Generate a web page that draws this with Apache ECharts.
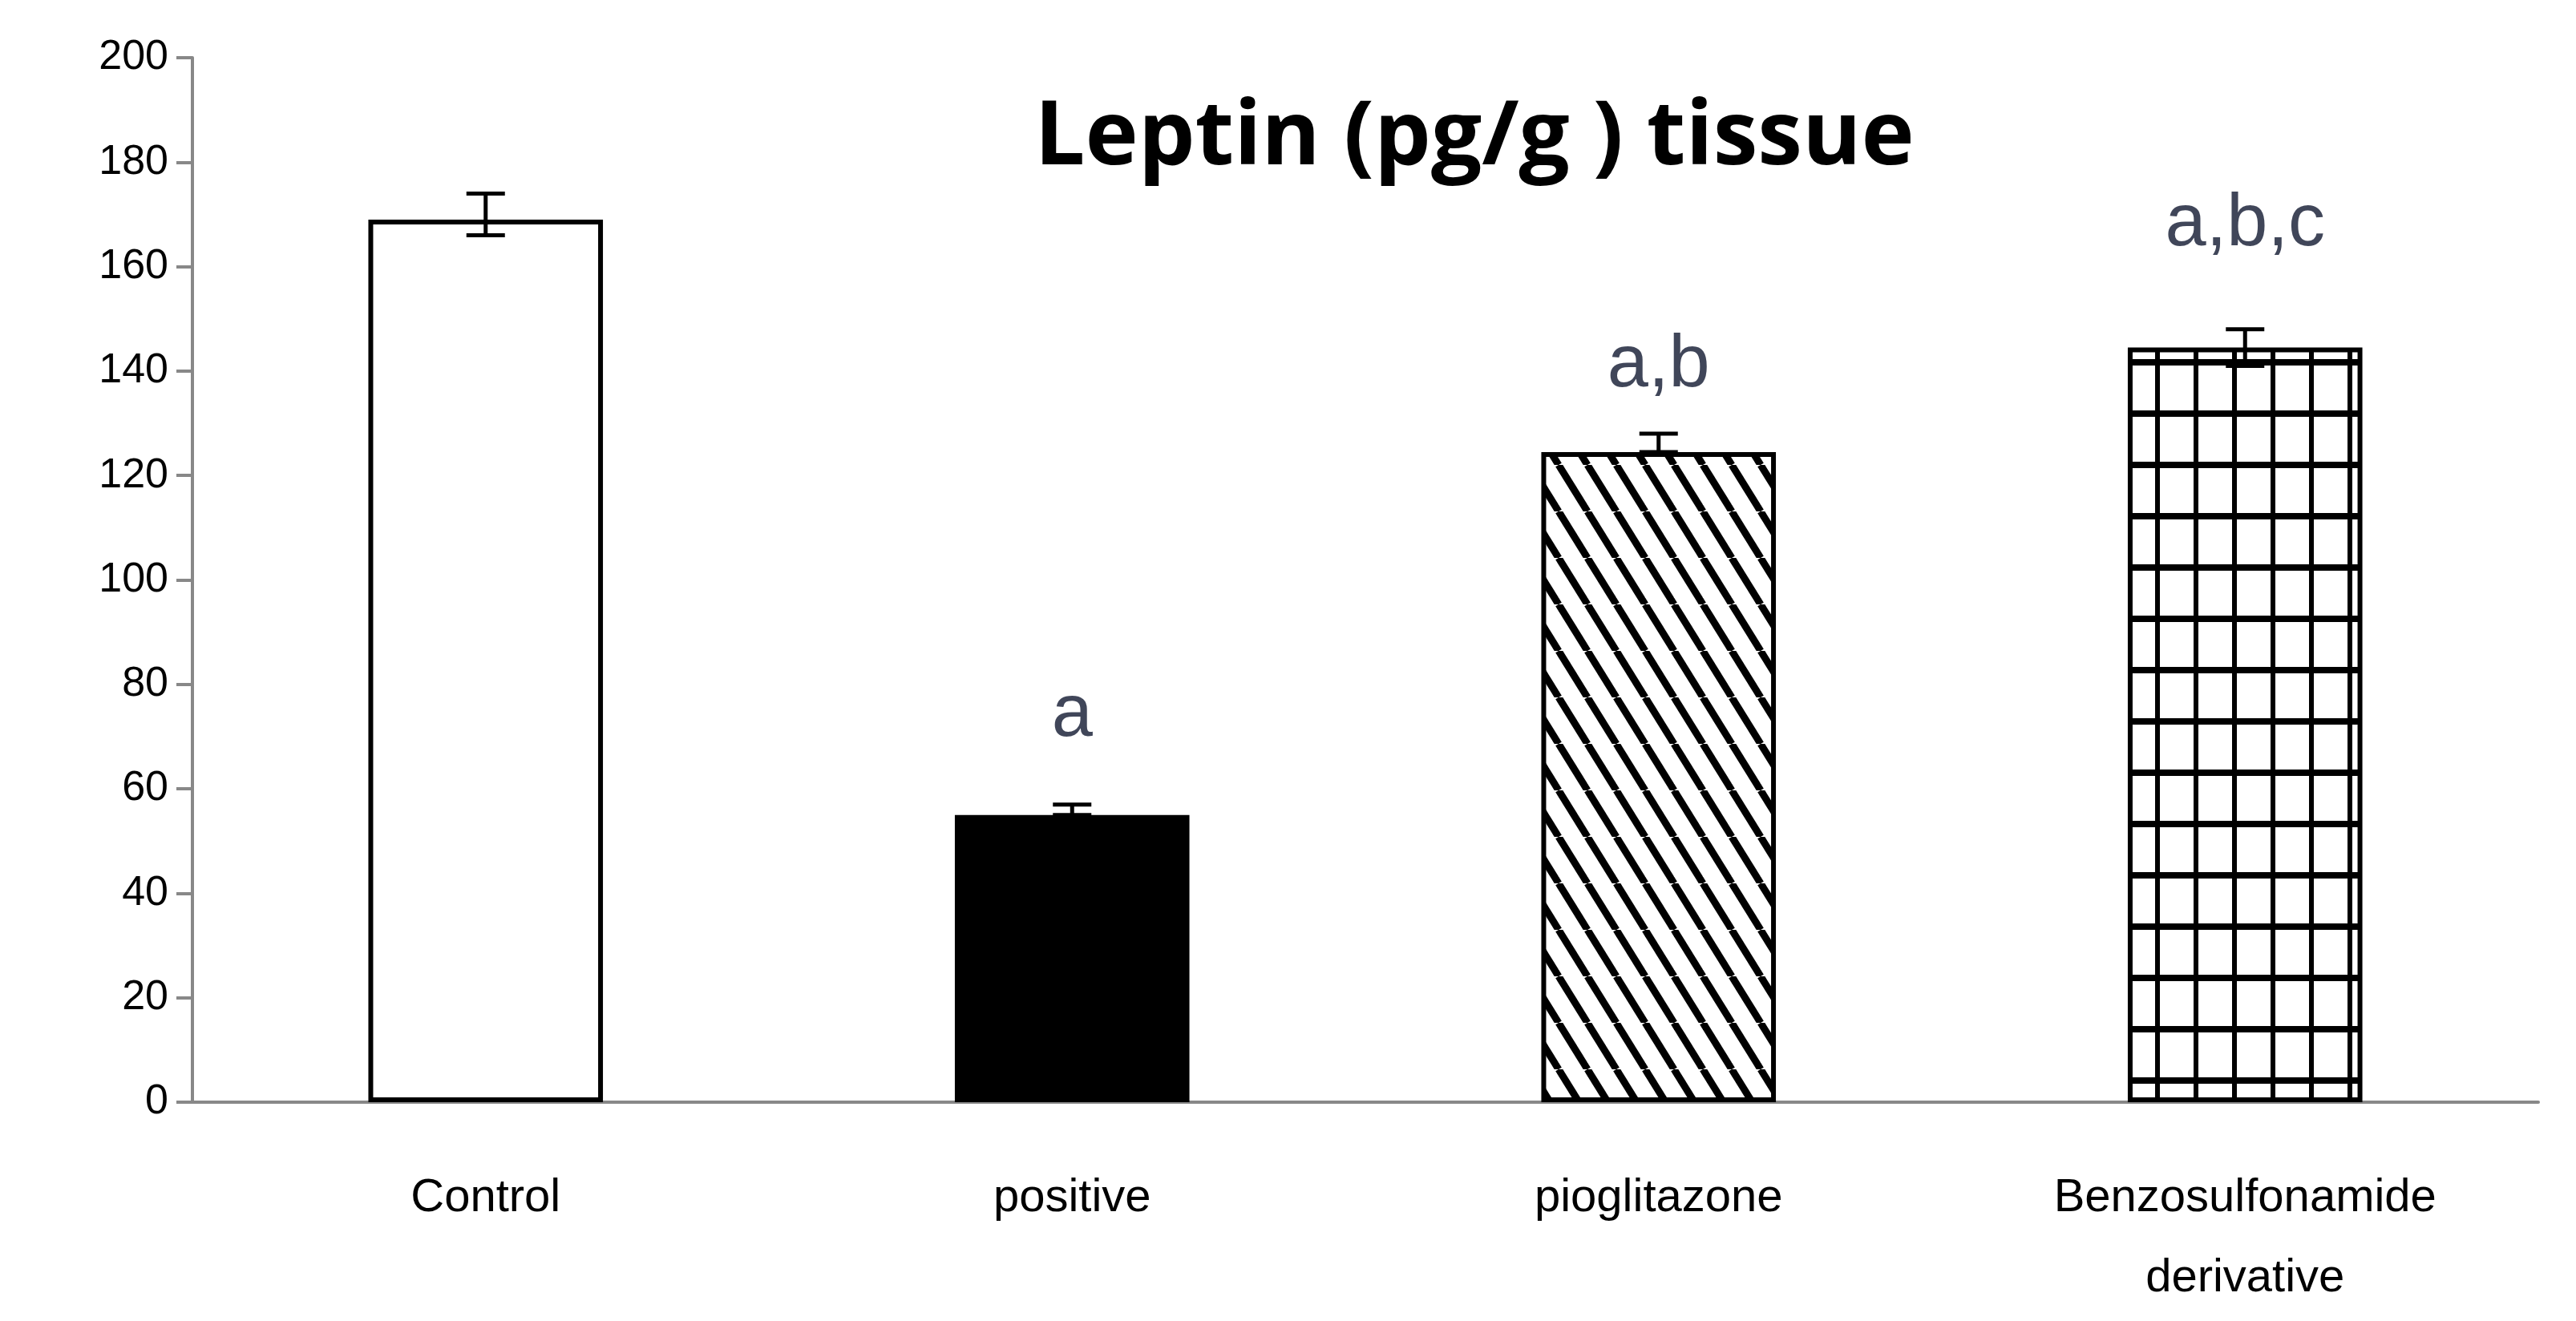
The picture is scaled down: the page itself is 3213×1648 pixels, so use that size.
<!DOCTYPE html>
<html><head><meta charset="utf-8">
<script src="https://cdn.jsdelivr.net/npm/echarts@6/dist/echarts.min.js"></script>
<style>html,body{margin:0;background:#fff}#c{width:3213px;height:1648px}</style>
</head><body><div id="c"></div>
<script>
const categories = ['Control', 'positive', 'pioglitazone', 'Benzosulfonamide\nderivative'];
const values = [169, 55, 124.5, 144.5];
const errLow = [166, 55, 124.5, 141];
const errHigh = [174, 57, 128, 148];
const sigLabels = ['', 'a', 'a,b', 'a,b,c'];
const sigY = [0, 74, 141, 168];

function stripe() {
  const w = 36, h = 58, c = document.createElement('canvas');
  c.width = w; c.height = h;
  const g = c.getContext('2d');
  g.fillStyle = '#fff'; g.fillRect(0, 0, w, h);
  g.strokeStyle = '#000'; g.lineWidth = 9;
  for (const o of [-w, 0, w]) { g.beginPath(); g.moveTo(o, 0); g.lineTo(o + w, h); g.stroke(); }
  return c;
}
function grid() {
  const w = 48, h = 64, c = document.createElement('canvas');
  c.width = w; c.height = h;
  const g = c.getContext('2d');
  g.fillStyle = '#fff'; g.fillRect(0, 0, w, h);
  g.fillStyle = '#000'; g.fillRect(0, 0, 6, h); g.fillRect(0, 0, w, 8);
  return c;
}
const fills = ['#fff', '#000', { image: stripe(), repeat: 'repeat' }, { image: grid(), repeat: 'repeat' }];
const font = '"Liberation Sans Narrow", "Liberation Sans", sans-serif';

const chart = echarts.init(document.getElementById('c'));
chart.setOption({
  animation: false,
  title: { text: 'Leptin (pg/g ) tissue', left: 1834, top: 112, textAlign: 'center',
    textStyle: { fontSize: 112, fontWeight: 'bold', color: '#000', fontFamily: '"Open Sans", sans-serif' } },
  grid: { left: 240, right: 47, top: 72, bottom: 273 },
  xAxis: { type: 'category', data: categories,
    axisLine: { lineStyle: { color: '#888', width: 4 } },
    axisTick: { length: 26, lineStyle: { color: '#888', width: 4 } },
    axisLabel: { fontSize: 58, color: '#000', fontFamily: font, margin: 70, lineHeight: 100 } },
  yAxis: { type: 'value', min: 0, max: 200, interval: 20,
    axisLine: { show: true, lineStyle: { color: '#888', width: 4 } },
    axisTick: { show: true, length: 20, lineStyle: { color: '#888', width: 4 } },
    splitLine: { show: false },
    axisLabel: { fontSize: 52, color: '#000', fontFamily: font, margin: 30 } },
  series: [
    { type: 'bar', barWidth: '40%',
      data: values.map((v, i) => ({ value: v, itemStyle: { color: fills[i], borderColor: '#000', borderWidth: 6 } })) },
    { type: 'custom', z: 5,
      data: values.map((v, i) => [i, errLow[i], errHigh[i]]),
      renderItem: (p, api) => {
        const lo = api.coord([api.value(0), api.value(1)]);
        const hi = api.coord([api.value(0), api.value(2)]);
        const cw = 24, st = { stroke: '#000', lineWidth: 5 };
        return { type: 'group', children: [
          { type: 'line', shape: { x1: lo[0], y1: lo[1], x2: hi[0], y2: hi[1] }, style: st },
          { type: 'line', shape: { x1: hi[0] - cw, y1: hi[1], x2: hi[0] + cw, y2: hi[1] }, style: st },
          { type: 'line', shape: { x1: lo[0] - cw, y1: lo[1], x2: lo[0] + cw, y2: lo[1] }, style: st }
        ] };
      } },
    { type: 'scatter', symbolSize: 0, silent: true,
      data: sigY.map((y, i) => [i, y]),
      label: { show: true, position: 'inside', formatter: p => sigLabels[p.dataIndex],
        fontSize: 92, color: '#101830', fontFamily: font } }
  ]
});
</script></body></html>
